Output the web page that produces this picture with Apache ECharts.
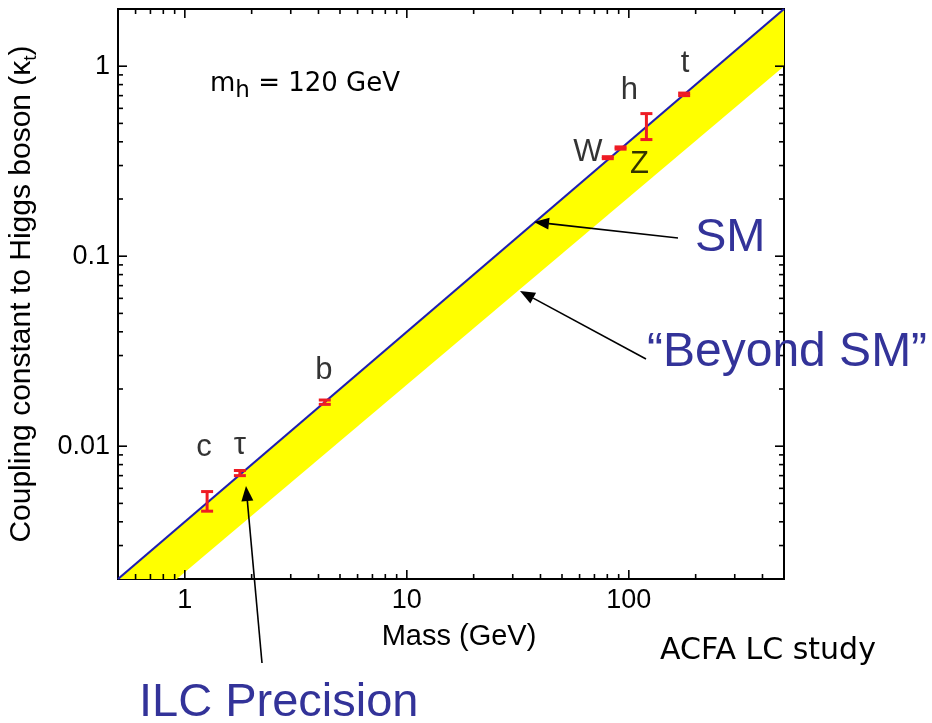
<!DOCTYPE html>
<html>
<head>
<meta charset="utf-8">
<script src="https://cdn.jsdelivr.net/npm/echarts@6/dist/echarts.min.js"></script>
<style>
html,body{margin:0;padding:0;background:#fff;}
#chartDiv{width:932px;height:723px;}
</style>
</head>
<body>
<div id="chartDiv"></div>
<script>
// axis ranges
var massRange = [0.5, 500];
var kappaRange = [0.002, 2];

// SM line and lower edge of the "beyond SM" band
var smMass = [0.5, 500];
var smKappa = [0.002, 2];
var bsmMass = [0.92, 500];
var bsmKappa = [0.002, 1.0];

// measured couplings with error bars
var particleNames = ['c', 'τ', 'b', 'W', 'Z', 'h', 't'];
var particleMass  = [1.26, 1.77, 4.27, 80.4, 91.8, 120, 177.5];
var particleKappa = [0.00515, 0.00722, 0.01706, 0.330, 0.371, 0.481, 0.711];
var particleLow   = [0.00455, 0.00700, 0.0166, 0.326, 0.366, 0.411, 0.700];
var particleHigh  = [0.00577, 0.00745, 0.0175, 0.334, 0.376, 0.563, 0.722];

// ticks
var xMajorTicks = [1, 10, 100];
var xTickLabels = ['1', '10', '100'];
var xMinorTicks = [0.6, 0.7, 0.8, 0.9, 2, 3, 4, 5, 6, 7, 8, 9, 20, 30, 40, 50, 60, 70, 80, 90, 200, 300, 400];
var yMajorTicks = [0.01, 0.1, 1];
var yTickLabels = ['0.01', '0.1', '1'];
var yMinorTicks = [0.003, 0.004, 0.005, 0.006, 0.007, 0.008, 0.009,
                   0.02, 0.03, 0.04, 0.05, 0.06, 0.07, 0.08, 0.09,
                   0.2, 0.3, 0.4, 0.5, 0.6, 0.7, 0.8, 0.9];

(function () {
    var myChart = echarts.init(document.getElementById('chartDiv'));
    var blue = '#333399';
    var sans = '"Liberation Sans", Arial, sans-serif';

    function pickLabel(v, ticks, labels) {
        for (var i = 0; i < ticks.length; i++) {
            if (Math.abs(Math.log10(v) - Math.log10(ticks[i])) < 1e-6) return labels[i];
        }
        return '';
    }

    // label offsets for the particle names
    var labelOffsets = {
        'c': [-3, -53], 'τ': [0, -28], 'b': [-1, -32], 'W': [-20, -5],
        'Z': [19, 16], 'h': [-17, -36], 't': [1, -31]
    };

    var tickData = [];
    xMajorTicks.forEach(function (v) { tickData.push([v, 1, 1]); });
    xMinorTicks.forEach(function (v) { tickData.push([v, 1, 0]); });
    var yTickData = [];
    yMajorTicks.forEach(function (v) { yTickData.push([1, v, 1]); });
    yMinorTicks.forEach(function (v) { yTickData.push([1, v, 0]); });

    var tickStyle = { stroke: '#000', lineWidth: 1.6 };

    function xTick(params, api) {
        var cs = params.coordSys;
        var x = api.coord([api.value(0), 1])[0];
        var len = api.value(2) ? 9 : 5;
        var b = cs.y + cs.height;
        return { type: 'group', children: [
            { type: 'line', shape: { x1: x, y1: b, x2: x, y2: b - len }, style: tickStyle },
            { type: 'line', shape: { x1: x, y1: cs.y, x2: x, y2: cs.y + len }, style: tickStyle }
        ]};
    }
    function yTick(params, api) {
        var cs = params.coordSys;
        var y = api.coord([1, api.value(1)])[1];
        var len = api.value(2) ? 9 : 5;
        var r = cs.x + cs.width;
        return { type: 'group', children: [
            { type: 'line', shape: { x1: cs.x, y1: y, x2: cs.x + len, y2: y }, style: tickStyle },
            { type: 'line', shape: { x1: r, y1: y, x2: r - len, y2: y }, style: tickStyle }
        ]};
    }

    var errData = [];
    var nameData = [];
    for (var i = 0; i < particleNames.length; i++) {
        errData.push([particleMass[i], particleLow[i], particleHigh[i]]);
        nameData.push({
            value: [particleMass[i], particleKappa[i]],
            name: particleNames[i],
            label: { offset: labelOffsets[particleNames[i]] }
        });
    }

    function arrow(x1, y1, x2, y2) {
        var a = Math.atan2(y2 - y1, x2 - x1);
        var L = 15, W = 6;
        var bx = x2 - L * Math.cos(a), by = y2 - L * Math.sin(a);
        var px = -Math.sin(a) * W, py = Math.cos(a) * W;
        return [
            { type: 'line', z: 100, shape: { x1: x1, y1: y1, x2: bx, y2: by }, style: { stroke: '#000', lineWidth: 1.6 } },
            { type: 'polygon', z: 100, shape: { points: [[x2, y2], [bx + px, by + py], [bx - px, by - py]] }, style: { fill: '#000' } }
        ];
    }

    var graphics = [].concat(
        arrow(678, 238, 534, 222),
        arrow(646, 359, 520, 291),
        arrow(262, 663, 246, 486),
        [
            { type: 'text', z: 100, x: 210, y: 84, style: {
                text: '{a|m}{s|h}{a| = 120 GeV}', verticalAlign: 'middle',
                rich: {
                    a: { fontFamily: 'DejaVu Sans', fontSize: 26, lineHeight: 38, verticalAlign: 'middle', fill: '#000' },
                    s: { fontFamily: 'DejaVu Sans', fontSize: 23, lineHeight: 22, verticalAlign: 'bottom', fill: '#000' }
                }
            }},
            { type: 'text', z: 100, x: 695, y: 238, style: { text: 'SM', font: '47px ' + sans, fill: blue, verticalAlign: 'middle' } },
            { type: 'text', z: 100, x: 647, y: 353, style: { text: '\u201cBeyond SM\u201d', font: '48px ' + sans, fill: blue, verticalAlign: 'middle' } },
            { type: 'text', z: 100, x: 139, y: 703, style: { text: 'ILC Precision', font: '47px ' + sans, fill: blue, verticalAlign: 'middle' } },
            { type: 'text', z: 100, x: 660, y: 651, style: { text: 'ACFA LC study', font: '30px "DejaVu Sans"', fill: '#000', verticalAlign: 'middle' } }
        ]
    );

    var option = {
        backgroundColor: '#fff',
        animation: false,
        grid: {
            left: 118, top: 9, width: 666, height: 570,
            show: true, borderColor: '#000', borderWidth: 2,
            outerBoundsMode: 'none'
        },
        xAxis: {
            type: 'log', logBase: 10,
            min: massRange[0], max: massRange[1],
            name: 'Mass (GeV)', nameLocation: 'middle', nameGap: 43,
            nameTextStyle: { fontFamily: sans, fontSize: 29, color: '#000', padding: [0, 0, 0, 16] },
            axisLine: { show: false },
            axisTick: { show: false },
            splitLine: { show: false },
            axisLabel: {
                color: '#000', fontFamily: sans, fontSize: 27, margin: 8,
                showMinLabel: false, showMaxLabel: false,
                formatter: function (v) { return pickLabel(v, xMajorTicks, xTickLabels); }
            }
        },
        yAxis: {
            type: 'log', logBase: 10,
            min: kappaRange[0], max: kappaRange[1],
            name: '{a|Coupling constant to Higgs boson (κ}{s|t}{a|)}',
            nameLocation: 'middle', nameGap: 78, nameRotate: 90,
            nameTextStyle: {
                rich: {
                    a: { fontFamily: sans, fontSize: 30, lineHeight: 36, verticalAlign: 'middle', color: '#000' },
                    s: { fontFamily: sans, fontSize: 19, lineHeight: 19, verticalAlign: 'bottom', color: '#000' }
                }
            },
            axisLine: { show: false },
            axisTick: { show: false },
            splitLine: { show: false },
            axisLabel: {
                color: '#000', fontFamily: sans, fontSize: 27, margin: 8,
                showMinLabel: false, showMaxLabel: false,
                formatter: function (v) { return pickLabel(v, yMajorTicks, yTickLabels); }
            }
        },
        series: [
            {
                name: 'band', type: 'custom', clip: true, silent: true, z: 1,
                data: [[smMass[0], smKappa[0]]],
                renderItem: function (params, api) {
                    var pts = [];
                    for (var i = 0; i < smMass.length; i++) pts.push(api.coord([smMass[i], smKappa[i]]));
                    for (var j = bsmMass.length - 1; j >= 0; j--) pts.push(api.coord([bsmMass[j], bsmKappa[j]]));
                    return { type: 'polygon', shape: { points: pts }, style: { fill: '#ffff00' } };
                }
            },
            {
                name: 'SM', type: 'line', z: 2, showSymbol: false, silent: true,
                data: smMass.map(function (m, i) { return [m, smKappa[i]]; }),
                lineStyle: { color: '#1f1fb0', width: 2.2 }
            },
            {
                name: 'errors', type: 'custom', z: 3, silent: true,
                encode: { x: 0, y: [1, 2] },
                data: errData,
                renderItem: function (params, api) {
                    var lo = api.coord([api.value(0), api.value(1)]);
                    var hi = api.coord([api.value(0), api.value(2)]);
                    var hw = 6;
                    var st = { stroke: '#ee1c24', lineWidth: 3 };
                    return { type: 'group', children: [
                        { type: 'line', shape: { x1: lo[0], y1: lo[1], x2: hi[0], y2: hi[1] }, style: st },
                        { type: 'line', shape: { x1: lo[0] - hw, y1: lo[1], x2: lo[0] + hw, y2: lo[1] }, style: st },
                        { type: 'line', shape: { x1: hi[0] - hw, y1: hi[1], x2: hi[0] + hw, y2: hi[1] }, style: st }
                    ]};
                }
            },
            {
                name: 'names', type: 'scatter', z: 4, silent: true,
                symbolSize: 1, itemStyle: { color: 'rgba(0,0,0,0)' },
                data: nameData,
                label: {
                    show: true, position: 'inside', color: '#000',
                    fontFamily: sans, fontSize: 31,
                    formatter: function (p) { return p.name; }
                }
            },
            { name: 'xticks', type: 'custom', z: 5, silent: true, data: tickData, renderItem: xTick },
            { name: 'yticks', type: 'custom', z: 5, silent: true, data: yTickData, renderItem: yTick }
        ],
        graphic: graphics
    };

    myChart.setOption(option);
    window.addEventListener('resize', function () { myChart.resize(); });
})();
</script>
</body>
</html>
